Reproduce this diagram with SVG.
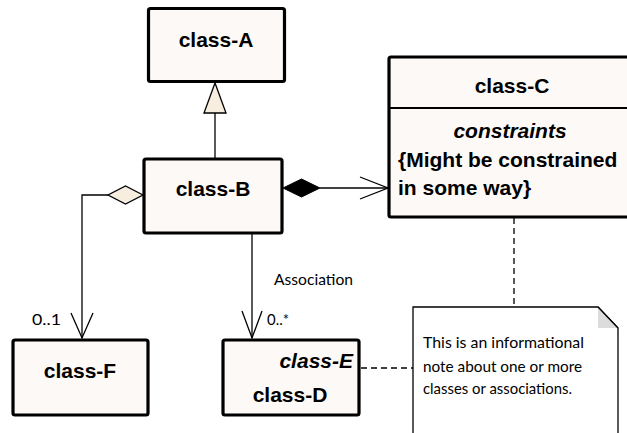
<svg xmlns="http://www.w3.org/2000/svg" width="627" height="433" viewBox="0 0 627 433">
<style>
.node{fill:#FDF9F6;stroke:#000;stroke-width:3.2}
.t{font-family:"Liberation Sans",Arial,sans-serif;font-weight:bold;font-size:21px;fill:#000}
.it{font-style:italic}
.c{text-anchor:middle}
.lbl{font-family:Lato,"Open Sans",sans-serif;font-size:15px;fill:#000}
.note{font-family:Lato,"Open Sans",sans-serif;font-size:16px;fill:#000}
.ln{fill:none;stroke:#000;stroke-width:1.3}
.dash{fill:none;stroke:#000;stroke-width:1.3;stroke-dasharray:6,4}
</style>
<rect width="627" height="433" fill="#fff"/>
<g id="connectors">
<line class="ln" x1="215" y1="113" x2="215" y2="159"/>
<polygon points="215,83 204,113 226,113" fill="#F8EEDF" stroke="#000" stroke-width="1.3"/>
<polyline class="ln" points="108,195 82,195 82,338"/>
<polygon points="143,195 125.5,186 108,195 125.5,204" fill="#F8EEDF" stroke="#000" stroke-width="1.3"/>
<polyline class="ln" points="71,313 82,338 93,313"/>
<line class="ln" x1="320" y1="188" x2="388" y2="188"/>
<polygon points="283,188 301.5,179 320,188 301.5,197" fill="#000" stroke="#000" stroke-width="1"/>
<polyline class="ln" points="360,177 388,188 360,199"/>
<line class="ln" x1="252" y1="233" x2="252" y2="338"/>
<polyline class="ln" points="242,311 252,338 262,311"/>
<line class="dash" x1="514" y1="218" x2="514" y2="307"/>
<line class="dash" x1="361" y1="368" x2="413" y2="368"/>
<text class="lbl" x="274" y="285" textLength="79" lengthAdjust="spacingAndGlyphs">Association</text>
<text class="lbl" x="267" y="325" textLength="22" lengthAdjust="spacingAndGlyphs">0..*</text>
<text class="lbl" x="32" y="325" textLength="29" lengthAdjust="spacingAndGlyphs">0..1</text>
</g>
<g id="class-A">
<rect class="node" x="148.5" y="8.5" width="136" height="73" rx="2"/>
<text class="t c" x="216" y="47">class-A</text>
</g>
<g id="class-B">
<rect class="node" x="144" y="159" width="138" height="74" rx="2"/>
<text class="t c" x="213" y="196">class-B</text>
</g>
<g id="class-C">
<rect class="node" x="389" y="57" width="250" height="160" rx="2"/>
<line x1="389" y1="108" x2="639" y2="108" stroke="#000" stroke-width="2"/>
<text class="t c" x="512" y="93">class-C</text>
<text class="t c it" x="510" y="138">constraints</text>
<text class="t" x="398" y="167">{Might be constrained</text>
<text class="t" x="398" y="195">in some way}</text>
</g>
<g id="class-F">
<rect class="node" x="13" y="340" width="135" height="75" rx="2"/>
<text class="t c" x="80" y="378">class-F</text>
</g>
<g id="class-D">
<rect class="node" x="223" y="340" width="136" height="75" rx="2"/>
<text class="t it" x="353" y="368" text-anchor="end">class-E</text>
<text class="t c" x="290" y="402">class-D</text>
</g>
<g id="note">
<path d="M413,307 H598 L618,328 V440 H413 Z" fill="#fff" stroke="#000" stroke-width="1.3"/>
<path d="M598,307 L618,328 H598 Z" fill="#DCDCDC" stroke="none"/>
<path d="M598,307 L618,328" fill="none" stroke="#000" stroke-width="1.3"/>
<text class="note" x="423" y="348" textLength="161" lengthAdjust="spacingAndGlyphs">This is an informational</text>
<text class="note" x="423" y="372" textLength="159" lengthAdjust="spacingAndGlyphs">note about one or more</text>
<text class="note" x="423" y="394" textLength="149" lengthAdjust="spacingAndGlyphs">classes or associations.</text>
</g>
</svg>
